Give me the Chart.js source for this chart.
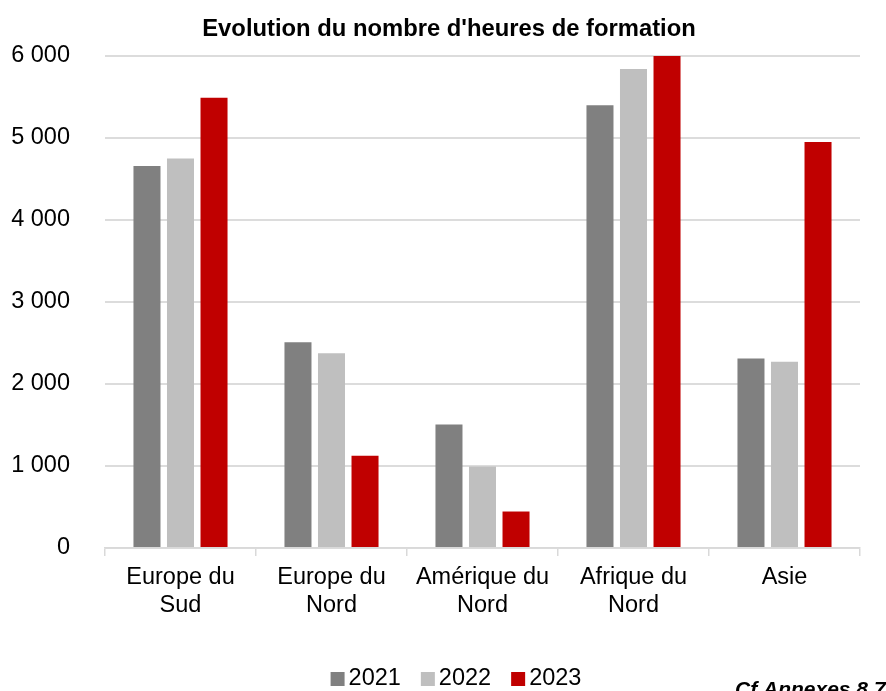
<!DOCTYPE html>
<html lang="fr">
<head>
<meta charset="utf-8">
<title>Evolution du nombre d'heures de formation</title>
<script src="https://cdn.jsdelivr.net/npm/chart.js@4/dist/chart.umd.min.js"></script>
<style>
    html, body { margin: 0; padding: 0; background: #fff; }
    #wrap { width: 886px; height: 691px; position: relative; }
</style>
</head>
<body>
<div id="wrap"><canvas id="heuresChart"></canvas></div>
<script>
    // zones geographiques
    const regions = [
        ['Europe du', 'Sud'],
        ['Europe du', 'Nord'],
        ['Amérique du', 'Nord'],
        ['Afrique du', 'Nord'],
        ['Asie']
    ];
    const years = ['2021', '2022', '2023'];
    const heures2021 = [4660, 2510, 1505, 5400, 2310];
    const heures2022 = [4750, 2375, 995, 5840, 2270];
    const heures2023 = [5490, 1125, 445, 6000, 4950];
    const yTicks = [0, 1000, 2000, 3000, 4000, 5000, 6000];
    const seriesColors = ['#808080', '#bfbfbf', '#c00000'];
    const titleText = "Evolution du nombre d'heures de formation";
    const noteText = 'Cf Annexes 8.7';

    const fontFamily = '"Liberation Sans", Arial, sans-serif';

    function formatMilliers(v) {
        return String(v).replace(/\B(?=(\d{3})+(?!\d))/g, ' ');
    }

    // titre, legende et renvoi dessines a la main
    // (le titre n'est pas centre sur la zone du graphique, et l'ecart carre/texte est serre)
    const decorations = {
        id: 'decorations',
        afterDraw(chart) {
            const ctx = chart.ctx;
            ctx.save();

            ctx.font = 'bold 23.8px ' + fontFamily;
            ctx.textAlign = 'center';
            ctx.textBaseline = 'middle';
            ctx.fillStyle = '#000';
            ctx.fillText(titleText, 449, 29);

            const box = 14, gapText = 4, gapItem = 20;
            ctx.font = '23.5px ' + fontFamily;
            ctx.textAlign = 'left';
            const sets = chart.data.datasets;
            let total = 0;
            sets.forEach((ds, i) => {
                total += box + gapText + ctx.measureText(ds.label).width;
                if (i < sets.length - 1) total += gapItem;
            });
            let x = 456 - total / 2;
            const yMid = 679;
            sets.forEach(ds => {
                ctx.fillStyle = ds.backgroundColor;
                ctx.fillRect(x, yMid - 7, box, box);
                x += box + gapText;
                ctx.fillStyle = '#000';
                ctx.fillText(ds.label, x, yMid);
                x += ctx.measureText(ds.label).width + gapItem;
            });

            ctx.font = 'italic bold 21px ' + fontFamily;
            ctx.textBaseline = 'alphabetic';
            ctx.fillText(noteText, 735, 696);
            ctx.restore();
        }
    };

    const ctx = document.getElementById('heuresChart');
    new Chart(ctx, {
        type: 'bar',
        data: {
            labels: regions,
            datasets: [
                { label: years[0], data: heures2021, backgroundColor: seriesColors[0] },
                { label: years[1], data: heures2022, backgroundColor: seriesColors[1] },
                { label: years[2], data: heures2023, backgroundColor: seriesColors[2] }
            ]
        },
        options: {
            responsive: true,
            maintainAspectRatio: false,
            animation: false,
            layout: { padding: { left: 0, right: 26, top: 56, bottom: 0 } },
            datasets: {
                bar: { categoryPercentage: 0.666, barPercentage: 0.806 }
            },
            plugins: {
                legend: { display: false },
                tooltip: { enabled: false },
                title: { display: false }
            },
            scales: {
                x: {
                    grid: {
                        display: true,
                        drawOnChartArea: false,
                        drawTicks: true,
                        tickLength: 8,
                        color: '#d9d9d9',
                        lineWidth: 1.5
                    },
                    border: { display: true, color: '#d9d9d9', width: 1.5 },
                    ticks: {
                        color: '#000',
                        padding: 8,
                        maxRotation: 0,
                        autoSkip: false,
                        font: { family: fontFamily, size: 23.5, lineHeight: 1.18 }
                    },
                    afterFit(scale) { scale.height = 143; }
                },
                y: {
                    min: 0,
                    max: 6000,
                    afterBuildTicks(scale) {
                        scale.ticks = yTicks.map(v => ({ value: v }));
                    },
                    grid: {
                        color: '#dcdcdc',
                        lineWidth: 2,
                        drawTicks: false
                    },
                    border: { display: false },
                    ticks: {
                        color: '#000',
                        padding: 35,
                        font: { family: fontFamily, size: 23.5 },
                        callback: v => formatMilliers(v)
                    },
                    afterFit(scale) { scale.width = 105; }
                }
            }
        },
        plugins: [decorations]
    });
</script>
</body>
</html>
